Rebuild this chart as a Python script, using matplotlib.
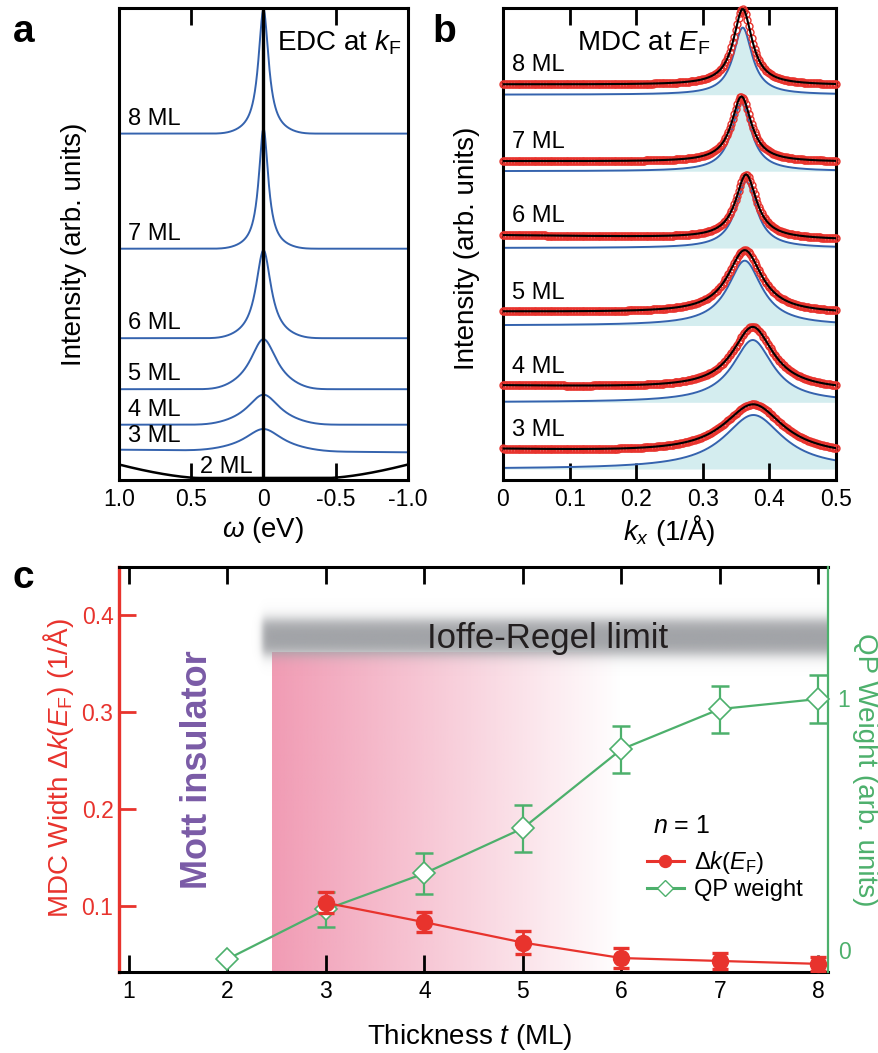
import numpy as np
import matplotlib
matplotlib.use("Agg")
import matplotlib.pyplot as plt
from matplotlib.lines import Line2D

plt.rcParams.update({
    "font.family": ["Liberation Sans", "DejaVu Sans"],
    "mathtext.fontset": "custom",
    "mathtext.rm": "Liberation Sans",
    "mathtext.it": "Liberation Sans:italic",
    "mathtext.bf": "Liberation Sans:bold",
    "mathtext.sf": "Liberation Sans",
    "axes.unicode_minus": False,
})

# ---------------- data ----------------
layers = ["3 ML", "4 ML", "5 ML", "6 ML", "7 ML", "8 ML"]

# EDC at k_F (panel a): symmetrised quasiparticle peaks, stacked
edc_base = [0.29, 0.553, 0.908, 1.418, 2.313, 3.464]
edc_amp = [0.22, 0.30, 0.50, 0.88, 1.20, 1.24]
edc_gamma = [0.155, 0.135, 0.11, 0.063, 0.040, 0.043]
edc_cutoff = [0.42, 0.36, 0.31, 0.28, 0.25, 0.25]
edc_tilt = [0.013, 0.0, 0.0, 0.0, 0.0, 0.0]
edc_2ml_floor = 0.02
edc_2ml_rise = 0.135
edc_2ml_onset = 0.45

# MDC at E_F (panel b): Lorentzian component + fit with background
mdc_k0 = [0.376, 0.375, 0.363, 0.365, 0.358, 0.360]
mdc_gamma = [0.054, 0.037, 0.031, 0.019, 0.018, 0.017]
mdc_amp = [0.54, 0.623, 0.648, 0.665, 0.679, 0.671]
mdc_base = [0.11, 0.777, 1.545, 2.32, 3.088, 3.853]
fit_scale = [0.93, 1.0, 0.97, 0.96, 0.96, 1.13]
bg_left = [0.195, 0.166, 0.138, 0.128, 0.10, 0.103]
bg_right = [0.128, 0.12, 0.12, 0.085, 0.093, 0.096]

# Panel c: MDC width and QP weight vs thickness
thick_dk = [3, 4, 5, 6, 7, 8]
mdc_width = [0.103, 0.083, 0.062, 0.046, 0.043, 0.040]
mdc_width_err = [0.011, 0.010, 0.012, 0.010, 0.008, 0.007]
thick_qp = [2, 3, 4, 5, 6, 7, 8]
qp_weight = [-0.036, 0.161, 0.304, 0.483, 0.796, 0.956, 0.996]
qp_weight_err = [0.07, 0.08, 0.093, 0.093, 0.093, 0.095]  # 3-8 ML

# ---------------- style ----------------
BLUE = "#3563ae"
FILL = "#d4edef"
RED = "#e8332d"
GREEN = "#4db06c"
PURPLE = "#7a5ba6"
PINK = np.array([241, 155, 180]) / 255
GRAY = np.array([160, 162, 166]) / 255
TICK = 16.5
LABEL = 20

W, H = 879, 1053
fig = plt.figure(figsize=(W / 100, H / 100), dpi=100)


def box(l, t, r, b):
    return [l / W, 1 - b / H, (r - l) / W, (b - t) / H]


def frame(ax, lw=2.2):
    for s in ax.spines.values():
        s.set_linewidth(lw)


# ---------------- panel a ----------------
axa = fig.add_axes(box(119, 8, 408, 480))
omega = np.linspace(1.0, -1.0, 1001)
for lab, b, a, g, c, tl in zip(layers, edc_base, edc_amp, edc_gamma, edc_cutoff, edc_tilt):
    y = b + tl * omega + a / (1 + (omega / g) ** 2) * np.exp(-(omega / c) ** 4)
    axa.plot(omega, y, color=BLUE, lw=1.4)
    axa.text(0.935, b + 0.15, lab, fontsize=17, ha="left", va="center")
y2 = edc_2ml_floor + edc_2ml_rise * np.clip(
    (np.abs(omega) - edc_2ml_onset) / (1 - edc_2ml_onset), 0, None) ** 1.5
axa.plot(omega, y2, color="k", lw=1.8)
axa.text(0.44, 0.13, "2 ML", fontsize=17, ha="left", va="center")
axa.axvline(0, color="k", lw=2.4, zorder=4)
axa.text(-0.951, 4.37, r"EDC at $k_\mathrm{F}$", fontsize=LABEL, ha="right", va="center")
axa.set_xlim(1.0, -1.0)
axa.set_ylim(0, 4.72)
axa.set_xticks([1.0, 0.5, 0, -0.5, -1.0])
axa.set_xticklabels(["1.0", "0.5", "0", "-0.5", "-1.0"])
axa.set_yticks([])
axa.tick_params(axis="x", direction="in", length=12, width=2, top=True,
                labelsize=TICK, pad=6)
axa.set_xlabel(r"$\omega$ (eV)", fontsize=LABEL, va="center")
axa.xaxis.set_label_coords(0.5, -0.106)
axa.set_ylabel("Intensity (arb. units)", fontsize=LABEL, va="center")
axa.yaxis.set_label_coords(-0.156, 0.5)
frame(axa)

# ---------------- panel b ----------------
axb = fig.add_axes(box(503, 8, 836, 480))
k = np.linspace(0, 0.5, 801)
kd = np.linspace(0, 0.5, 230)
for lab, k0, g, a, b, s, bl, br in zip(layers, mdc_k0, mdc_gamma, mdc_amp, mdc_base,
                                      fit_scale, bg_left, bg_right):
    lor = 1 / (1 + ((k - k0) / g) ** 2)
    blue = b + a * lor
    fit = b + s * a * lor + bl + (br - bl) * k / 0.5
    lor_d = 1 / (1 + ((kd - k0) / g) ** 2)
    pts = b + s * a * lor_d + bl + (br - bl) * kd / 0.5
    axb.fill_between(k, b, blue, color=FILL, lw=0, zorder=1)
    axb.plot(k, blue, color=BLUE, lw=1.4, zorder=2)
    axb.plot(kd, pts, ls="none", marker="o", ms=5.0, mfc="none", mec=RED,
             mew=1.0, zorder=3, clip_on=False)
    axb.plot(k, fit, color="k", lw=1.5, zorder=4)
    axb.text(0.014, b + bl + 0.19, lab, fontsize=17, ha="left", va="center")
axb.text(0.111, 4.37, r"MDC at $E_\mathrm{F}$", fontsize=LABEL, ha="left", va="center")
axb.set_xlim(0, 0.5)
axb.set_ylim(0, 4.72)
axb.set_xticks([0, 0.1, 0.2, 0.3, 0.4, 0.5])
axb.set_xticklabels(["0", "0.1", "0.2", "0.3", "0.4", "0.5"])
axb.set_yticks([])
axb.tick_params(axis="x", direction="in", length=12, width=2, top=True,
                labelsize=TICK, pad=6)
axb.set_xlabel(r"$k_x$ (1/Å)", fontsize=LABEL, va="center")
axb.xaxis.set_label_coords(0.5, -0.106)
axb.set_ylabel("Intensity (arb. units)", fontsize=LABEL, va="center")
axb.yaxis.set_label_coords(-0.108, 0.49)
frame(axb)

# ---------------- panel c ----------------
axc = fig.add_axes(box(119, 567, 828, 972))
xlim_c = (0.898, 8.10)
ylim_c = (0.0316, 0.4495)

# metallic-crossover shading (fades towards thicker films)
pink_x0, pink_x1, pink_top = 2.45, 6.0, 0.361
ramp = np.linspace(1.0, 0.0, 400)
pink = np.zeros((1, 400, 4))
pink[..., :3] = PINK
pink[..., 3] = ramp
axc.imshow(pink, extent=[pink_x0, pink_x1, ylim_c[0], pink_top], aspect="auto",
           interpolation="bilinear", origin="lower", zorder=0)

# Ioffe-Regel band with soft edges
band_x0, band_yc, band_half = 2.35, 0.377, 0.018
gx = np.linspace(2.2, 8.2, 600)
gy = np.linspace(0.33, 0.425, 240)
GX, GY = np.meshgrid(gx, gy)
soft = 0.008
alpha = 0.5 * (np.tanh((GY - (band_yc - band_half)) / soft)
               - np.tanh((GY - (band_yc + band_half)) / soft))
alpha *= 0.5 * (1 + np.tanh((GX - band_x0) / 0.04))
band = np.zeros(GX.shape + (4,))
band[..., :3] = GRAY
band[..., 3] = np.clip(alpha, 0, 1)
axc.imshow(band, extent=[gx[0], gx[-1], gy[0], gy[-1]], aspect="auto",
           interpolation="bilinear", origin="lower", zorder=1)
axc.text(4.03, 0.366, "Ioffe-Regel limit", fontsize=25, color="#231f20",
         ha="left", va="baseline", zorder=2)
axc.text(1.70, 0.24, "Mott insulator", rotation=90, fontsize=26, fontweight="bold",
         color=PURPLE, ha="center", va="center", zorder=2)

axc.set_xlim(*xlim_c)
axc.set_ylim(*ylim_c)
axc.set_xticks(range(1, 9))
axc.set_yticks([0.1, 0.2, 0.3, 0.4])
axc.set_yticklabels(["0.1", "0.2", "0.3", "0.4"])
axc.tick_params(axis="x", direction="in", length=12, width=2, top=True,
                labelsize=TICK, pad=6)
axc.tick_params(axis="y", direction="in", length=12, width=2, colors=RED,
                labelsize=TICK, pad=4)
for side in ("top", "bottom"):
    axc.spines[side].set_linewidth(2.2)
axc.spines["left"].set_linewidth(2.4)
axc.spines["left"].set_color(RED)
axc.spines["right"].set_visible(False)
axc.set_xlabel(r"Thickness $t$ (ML)", fontsize=LABEL, va="center")
axc.xaxis.set_label_coords(0.495, -0.160)
axc.set_ylabel(r"MDC Width $\Delta k(E_\mathrm{F})$ (1/Å)", fontsize=LABEL,
               color=RED, va="center")
axc.yaxis.set_label_coords(-0.086, 0.504)

# QP weight on the right axis
axg = axc.twinx()
axg.set_ylim(-0.0873, 1.5198)
axg.set_xlim(*xlim_c)
for side in ("top", "bottom", "left"):
    axg.spines[side].set_visible(False)
axg.spines["right"].set_color(GREEN)
axg.spines["right"].set_linewidth(1.6)
axg.set_yticks([0, 1])
axg.set_yticklabels(["0", "1"])
axg.tick_params(axis="y", direction="in", length=0, colors=GREEN,
                labelsize=TICK, pad=7)
axg.plot(thick_qp, qp_weight, color=GREEN, lw=1.6, zorder=2)
axg.errorbar(thick_qp[1:], qp_weight[1:], yerr=qp_weight_err, fmt="none",
             ecolor=GREEN, elinewidth=1.6, capsize=6.5, capthick=1.8, zorder=2)
axg.plot(thick_qp, qp_weight, ls="none", marker="D", ms=11.7, mfc="white",
         mec=GREEN, mew=1.2, zorder=3, clip_on=False)
axg.set_ylabel("QP Weight (arb. units)", fontsize=LABEL, color=GREEN,
               rotation=-90, va="center")
axg.yaxis.set_label_coords(1.052, 0.50)

# MDC width on top, sharing the left scale
axr = axc.twinx()
axr.set_ylim(*ylim_c)
axr.set_xlim(*xlim_c)
axr.axis("off")
axr.plot(thick_dk, mdc_width, color=RED, lw=1.6, zorder=2)
axr.errorbar(thick_dk, mdc_width, yerr=mdc_width_err, fmt="none", ecolor=RED,
             elinewidth=2.0, capsize=6.0, capthick=2.4, zorder=2)
axr.plot(thick_dk, mdc_width, ls="none", marker="o", ms=11.5, color=RED,
         zorder=3, clip_on=False)

fig.text(653 / W, 1 - 826 / H, r"$n$ = 1", fontsize=18, ha="left", va="center")
handles = [
    Line2D([], [], color=RED, lw=2.2, marker="o", ms=8.6),
    Line2D([], [], color=GREEN, lw=2.2, marker="D", ms=8.6, mfc="white",
           mec=GREEN, mew=1.0),
]
axr.legend(handles, [r"$\Delta k(E_\mathrm{F})$", "QP weight"],
           frameon=False, fontsize=17, handlelength=1.55,
           handletextpad=0.45, labelspacing=0.12, borderpad=0,
           borderaxespad=0, loc="upper left",
           bbox_to_anchor=(647 / W, 1 - 849 / H),
           bbox_transform=fig.transFigure)

# ---------------- panel letters ----------------
for letter, x, y in (("a", 13, 42), ("b", 432, 42), ("c", 13, 588)):
    fig.text(x / W, 1 - y / H, letter, fontsize=28, fontweight="bold",
             ha="left", va="baseline")

fig.savefig("out.png", dpi=100)
